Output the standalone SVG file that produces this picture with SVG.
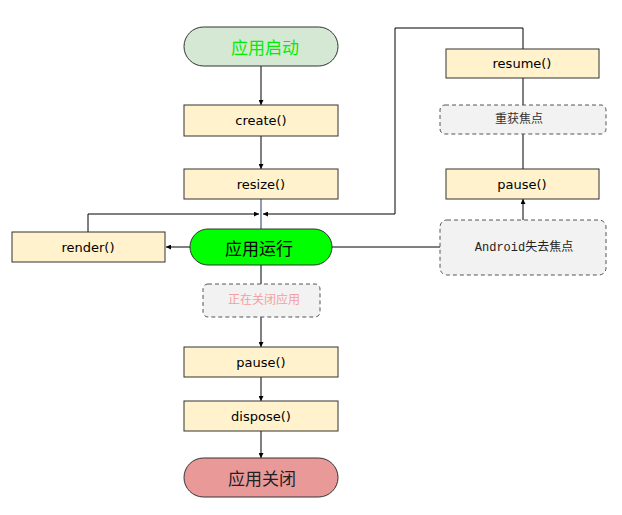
<svg xmlns="http://www.w3.org/2000/svg" width="622" height="515" viewBox="0 0 622 515">
<defs>
<marker id="ah" viewBox="0 0 10 10" refX="10" refY="5" markerWidth="5" markerHeight="5" orient="auto" markerUnits="userSpaceOnUse">
<path d="M0,0 L10,5 L0,10 Z" fill="#000"/>
</marker>
<style>
.box{fill:#fff2cc;stroke:#333;stroke-width:1}
.dash{fill:#f2f2f2;stroke:#555;stroke-width:1;stroke-dasharray:4,3}
.t{font-family:"DejaVu Sans","Liberation Sans",sans-serif;font-size:13px;fill:#000;text-anchor:middle;dominant-baseline:central}
.cn{font-family:"Noto Sans CJK SC",sans-serif;font-size:17px;text-anchor:middle;dominant-baseline:central}
.ds{font-family:"Liberation Mono","Noto Sans CJK SC",monospace;font-size:12px;text-anchor:middle;dominant-baseline:central}
.ln{fill:none;stroke:#000;stroke-width:1}
</style>
</defs>
<rect width="622" height="515" fill="#fff"/>
<g id="connectors">
<path class="ln" d="M261,66 V105" marker-end="url(#ah)"/>
<path class="ln" d="M261,136 V169" marker-end="url(#ah)"/>
<path d="M261,199 V229" fill="none" stroke="#1f3864" stroke-width="1"/>
<path class="ln" d="M88,232 V214 H259" marker-end="url(#ah)"/>
<path class="ln" d="M523,49 V28 H395 V214 H263" marker-end="url(#ah)"/>
<path class="ln" d="M190,247 H166" marker-end="url(#ah)"/>
<path class="ln" d="M332,247 H440"/>
<path class="ln" d="M261,265 V284"/>
<path class="ln" d="M261,317 V347" marker-end="url(#ah)"/>
<path class="ln" d="M261,377 V401" marker-end="url(#ah)"/>
<path class="ln" d="M261,431 V458" marker-end="url(#ah)"/>
<path class="ln" d="M523,78 V105"/>
<path class="ln" d="M523,134 V169"/>
<path class="ln" d="M523,220 V199" marker-end="url(#ah)"/>
</g>
<g id="start">
<rect x="184" y="27" width="154" height="39" rx="19.5" fill="#d5e8d4" stroke="#333"/>
<text class="cn" x="265" y="46.5" fill="#00ee00">应用启动</text>
</g>
<g id="create">
<rect class="box" x="184" y="105" width="154" height="31"/>
<text class="t" x="261" y="120.5">create()</text>
</g>
<g id="resize">
<rect class="box" x="184" y="169" width="154" height="30"/>
<text class="t" x="261" y="184">resize()</text>
</g>
<g id="running">
<rect x="190" y="229" width="142" height="36" rx="18" fill="#00ff00" stroke="#333"/>
<text class="cn" x="259" y="247" fill="#000" font-size="18">应用运行</text>
</g>
<g id="render">
<rect class="box" x="12" y="232" width="153" height="30"/>
<text class="t" x="88" y="247">render()</text>
</g>
<g id="closing">
<rect class="dash" x="203" y="284" width="117" height="33" rx="5"/>
<text class="ds" x="264" y="300.5" fill="#f4a0a0" font-size="13">正在关闭应用</text>
</g>
<g id="pause1">
<rect class="box" x="184" y="347" width="154" height="30"/>
<text class="t" x="261" y="362">pause()</text>
</g>
<g id="dispose">
<rect class="box" x="184" y="401" width="154" height="30"/>
<text class="t" x="261" y="416">dispose()</text>
</g>
<g id="end">
<rect x="184" y="458" width="154" height="39" rx="19.5" fill="#ea9999" stroke="#333"/>
<text class="cn" x="262" y="477.5" fill="#222">应用关闭</text>
</g>
<g id="resume">
<rect class="box" x="446" y="49" width="153" height="29"/>
<text class="t" x="522" y="63.5">resume()</text>
</g>
<g id="refocus">
<rect class="dash" x="440" y="105" width="166" height="29" rx="5"/>
<text class="ds" x="519" y="119.5" fill="#333" font-size="13">重获焦点</text>
</g>
<g id="pause2">
<rect class="box" x="446" y="169" width="153" height="30"/>
<text class="t" x="522" y="184">pause()</text>
</g>
<g id="android">
<rect class="dash" x="440" y="220" width="166" height="55" rx="7"/>
<text class="ds" x="524" y="247.5" fill="#222">Android失去焦点</text>
</g>
</svg>
